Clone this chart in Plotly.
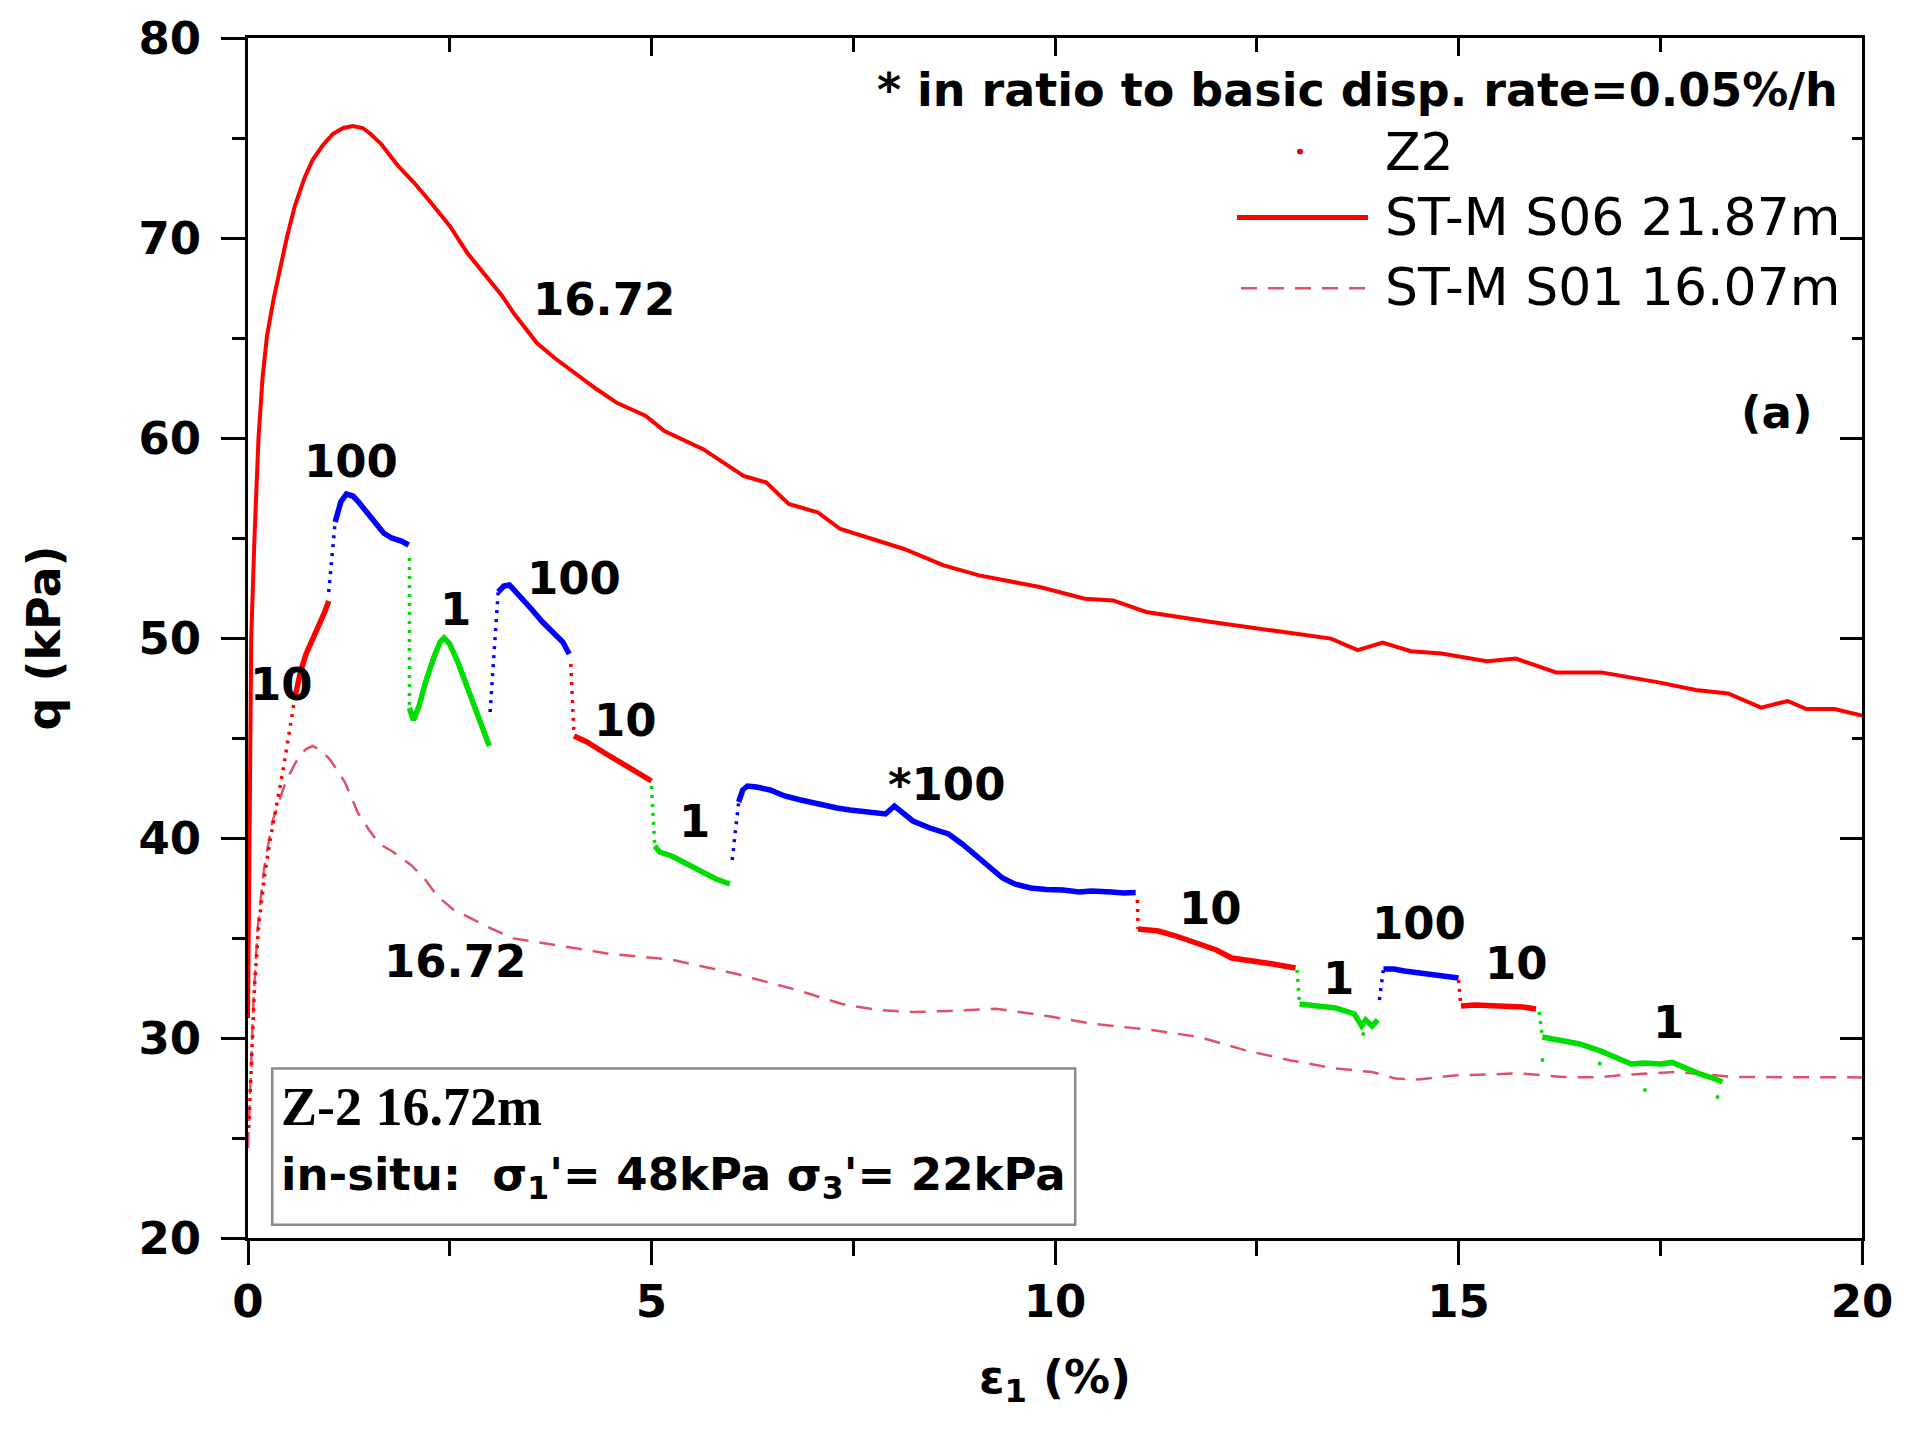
import plotly.graph_objects as go

# ---------------- data ----------------
# ST-M S06 21.87m (solid red)
s06_x = [0.0, 0.02, 0.03, 0.04, 0.08, 0.13, 0.18, 0.235, 0.32, 0.39, 0.48, 0.58, 0.70, 0.80,
         0.92, 1.05, 1.18, 1.30, 1.42, 1.52, 1.65, 1.86, 2.05, 2.24, 2.50, 2.72, 3.02, 3.15, 3.30, 3.58,
         3.80, 4.0, 4.30, 4.57, 4.93, 5.16, 5.64, 6.14, 6.42, 6.70, 7.06, 7.34, 8.13, 8.62, 9.06, 9.81,
         10.37, 10.72, 11.13, 11.94, 12.79, 13.42, 13.75, 14.06, 14.41, 14.79, 15.35, 15.71, 16.21,
         16.77, 17.48, 17.94, 18.34, 18.75, 19.08, 19.31, 19.66, 20.0]
s06_y = [31.0, 40.0, 47.0, 50.0, 55.0, 60.0, 63.0, 65.1, 67.0, 68.4, 70.0, 71.6, 73.0, 73.9,
         74.6, 75.2, 75.5, 75.6, 75.5, 75.2, 74.7, 73.6, 72.8, 71.9, 70.6, 69.24, 67.7, 67.1, 66.2, 64.75,
         64.0, 63.4, 62.5, 61.76, 61.1, 60.35, 59.44, 58.1, 57.78, 56.7, 56.28, 55.45, 54.45, 53.63, 53.13, 52.55,
         51.96, 51.88, 51.3, 50.8, 50.3, 49.97, 49.39, 49.77, 49.34, 49.22, 48.84, 48.97, 48.28,
         48.28, 47.78, 47.4, 47.23, 46.52, 46.85, 46.45, 46.45, 46.12]

# ST-M S01 16.07m (dashed)
s01_x = [0.0, 0.03, 0.07, 0.12, 0.20, 0.30, 0.47, 0.62, 0.72, 0.80, 0.90, 1.02, 1.20, 1.36, 1.50,
         1.63, 1.80, 2.02, 2.20, 2.35, 2.55, 2.74, 3.00, 3.29, 3.70, 4.12, 4.49, 5.23, 6.06, 6.80,
         7.36, 7.80, 8.23, 8.70, 9.27, 9.90, 10.49, 11.20, 11.80, 12.36, 12.92, 13.48, 13.93, 14.22,
         14.50, 14.95, 15.40, 15.74, 16.30, 16.70, 17.14, 17.70, 18.43, 19.11, 19.90, 20.0]
s01_y = [24.5, 28.0, 32.0, 35.5, 38.5, 40.8, 42.85, 44.0, 44.45, 44.6, 44.4, 43.9, 42.8, 41.27, 40.4,
         39.7, 39.3, 38.65, 37.9, 37.08, 36.4, 36.03, 35.5, 34.98, 34.7, 34.45, 34.2, 33.93, 33.2, 32.4,
         31.7, 31.4, 31.3, 31.35, 31.46, 31.1, 30.7, 30.4, 30.04, 29.38, 28.88, 28.47, 28.3, 27.97,
         27.93, 28.13, 28.18, 28.23, 28.05, 28.03, 28.18, 28.3, 28.05, 28.05, 28.03, 28.03]

# Z2 test, one array pair per displacement-rate stage (first n_dot points = sparse transition)
z2_rate = [10, 100, 1, 100, 10, 1, 100, 10, 1, 100, 10, 1]
z2_ndot = [10, 2, 2, 2, 2, 2, 2, 2, 2, 2, 2, 2]

z2_x1 = [0.01, 0.04, 0.08, 0.13, 0.20, 0.27, 0.35, 0.43, 0.50, 0.58, 0.65, 0.72, 0.80, 0.88, 0.95, 1.0]
z2_y1 = [25.5, 29.0, 32.5, 35.5, 38.0, 39.8, 41.5, 43.3, 45.0, 47.0, 48.3, 49.2, 49.9, 50.6, 51.3, 51.85]
z2_x2 = [1.0, 1.08, 1.15, 1.22, 1.30, 1.36, 1.45, 1.58, 1.68, 1.78, 1.90, 1.99]
z2_y2 = [52.3, 55.8, 56.8, 57.2, 57.1, 56.85, 56.4, 55.75, 55.25, 55.0, 54.85, 54.65]
z2_x3 = [2.0, 2.0, 2.05, 2.12, 2.20, 2.30, 2.38, 2.43, 2.50, 2.60, 2.70, 2.80, 2.90, 2.99]
z2_y3 = [54.0, 46.5, 45.9, 46.6, 47.8, 49.0, 49.8, 50.0, 49.7, 48.8, 47.7, 46.6, 45.5, 44.6]
z2_x4 = [3.0, 3.1, 3.17, 3.24, 3.35, 3.50, 3.65, 3.80, 3.90, 3.98]
z2_y4 = [46.3, 52.3, 52.6, 52.65, 52.2, 51.5, 50.8, 50.2, 49.8, 49.2]
z2_x5 = [4.0, 4.04, 4.20, 4.40, 4.60, 4.80, 5.0]
z2_y5 = [48.7, 45.1, 44.8, 44.3, 43.8, 43.3, 42.85]
z2_x6 = [5.0, 5.04, 5.10, 5.25, 5.45, 5.64, 5.80, 5.97]
z2_y6 = [42.6, 39.6, 39.3, 39.1, 38.7, 38.3, 37.95, 37.7]
z2_x7 = [6.0, 6.08, 6.13, 6.19, 6.30, 6.47, 6.65, 6.85, 7.0, 7.13, 7.30, 7.46, 7.70, 7.90, 8.01,
         8.10, 8.24, 8.45, 8.68, 8.85, 8.95, 9.10, 9.23, 9.35, 9.50, 9.70, 9.89, 10.10, 10.30, 10.45,
         10.70, 10.85, 11.0]
z2_y7 = [38.9, 41.8, 42.4, 42.6, 42.55, 42.4, 42.1, 41.9, 41.75, 41.6, 41.5, 41.4, 41.3, 41.2, 41.6,
         41.3, 40.85, 40.5, 40.2, 39.7, 39.35, 38.8, 38.35, 38.0, 37.7, 37.5, 37.43, 37.4, 37.3, 37.35,
         37.3, 37.25, 37.27]
z2_x8 = [11.02, 11.03, 11.28, 11.50, 11.80, 12.0, 12.19, 12.40, 12.70, 12.98]
z2_y8 = [36.9, 35.45, 35.35, 35.1, 34.7, 34.4, 34.0, 33.9, 33.7, 33.5]
z2_x9 = [13.0, 13.03, 13.20, 13.48, 13.60, 13.71, 13.80, 13.85, 13.93, 14.0]
z2_y9 = [33.4, 31.7, 31.6, 31.5, 31.35, 31.2, 30.6, 30.9, 30.6, 30.9]
z2_x10 = [14.02, 14.07, 14.20, 14.33, 14.50, 14.70, 14.85, 15.0]
z2_y10 = [31.9, 33.45, 33.45, 33.35, 33.25, 33.15, 33.05, 33.0]
z2_x11 = [15.0, 15.03, 15.20, 15.50, 15.80, 15.96]
z2_y11 = [32.9, 31.6, 31.65, 31.6, 31.55, 31.45]
z2_x12 = [16.0, 16.04, 16.30, 16.50, 16.75, 16.90, 17.14, 17.30, 17.50, 17.65, 17.80, 17.99, 18.15, 18.27]
z2_y12 = [31.3, 30.05, 29.88, 29.7, 29.37, 29.1, 28.7, 28.75, 28.7, 28.78, 28.5, 28.2, 28.0, 27.8]

z2_out_x = [13.82, 16.04, 16.75, 17.31, 18.21]
z2_out_y = [30.2, 28.9, 28.73, 27.4, 27.05]

rate_labels = ["10", "100", "1", "100", "10", "1", "*100", "10", "1", "100", "10", "1"]
rate_label_x = [0.415, 1.275, 2.57, 4.04, 4.675, 5.53, 8.66, 11.93, 13.51, 14.51, 15.72, 17.6]
rate_label_y = [47.7, 58.82, 51.45, 52.99, 45.9, 40.84, 42.68, 36.48, 32.99, 35.75, 33.74, 30.79]

depth_labels = ["16.72", "16.72"]
depth_label_x = [4.415, 2.56]
depth_label_y = [66.95, 33.84]

# ---------------- figure ----------------
W, H = 1912, 1429
ML, MR, MT, MB = 248, 50, 34, 191
FONT = "DejaVu Sans"
rate_color = {10: "#ff0000", 100: "#0000ff", 1: "#00dd00"}

fig = go.Figure()

fig.add_trace(go.Scatter(x=s01_x, y=s01_y, mode="lines", name="ST-M S01 16.07m",
                         line=dict(color="#e0506a", width=2.5, dash="16px,11px"), showlegend=False))
fig.add_trace(go.Scatter(x=s06_x, y=s06_y, mode="lines", name="ST-M S06 21.87m",
                         line=dict(color="#ff0000", width=4), showlegend=False))

segs_x = [z2_x1, z2_x2, z2_x3, z2_x4, z2_x5, z2_x6, z2_x7, z2_x8, z2_x9, z2_x10, z2_x11, z2_x12]
segs_y = [z2_y1, z2_y2, z2_y3, z2_y4, z2_y5, z2_y6, z2_y7, z2_y8, z2_y9, z2_y10, z2_y11, z2_y12]
for sx, sy, r, nd in zip(segs_x, segs_y, z2_rate, z2_ndot):
    c = rate_color[r]
    fig.add_trace(go.Scatter(x=sx[:nd], y=sy[:nd], mode="lines", showlegend=False,
                             line=dict(color=c, width=3.5, dash="3px,6px")))
    fig.add_trace(go.Scatter(x=sx[nd - 1:], y=sy[nd - 1:], mode="lines", showlegend=False,
                             line=dict(color=c, width=5.5)))
fig.add_trace(go.Scatter(x=z2_out_x, y=z2_out_y, mode="markers", showlegend=False,
                         marker=dict(color="#00dd00", size=4)))

# dummy trace so the mirrored (top / right) axes are drawn
fig.add_trace(go.Scatter(x=[], y=[], xaxis="x2", yaxis="y2", showlegend=False, hoverinfo="skip"))

tickfont = dict(family=FONT, size=45, color="black", weight="bold")
titlefont = dict(family=FONT, size=46, color="black", weight="bold")

fig.update_layout(
    width=W, height=H,
    margin=dict(l=ML, r=MR, t=MT, b=MB),
    paper_bgcolor="white", plot_bgcolor="white",
    showlegend=False,
    xaxis=dict(range=[0, 20], tick0=0, dtick=5, ticks="outside", ticklen=24, tickwidth=2.5,
               tickcolor="black", showline=True, linewidth=3, linecolor="black",
               showgrid=False, zeroline=False, tickfont=tickfont, ticklabelstandoff=-2,
               minor=dict(dtick=2.5, ticks="outside", ticklen=15, tickwidth=2.5,
                          tickcolor="black", showgrid=False),
               title=dict(text="ε<sub>1</sub> (%)", font=titlefont, standoff=34)),
    yaxis=dict(range=[20, 80], tick0=20, dtick=10, ticks="outside", ticklen=24, tickwidth=2.5,
               tickcolor="black", showline=True, linewidth=3, linecolor="black",
               showgrid=False, zeroline=False, tickfont=tickfont, ticklabelstandoff=11,
               minor=dict(dtick=5, ticks="outside", ticklen=13, tickwidth=2.5,
                          tickcolor="black", showgrid=False),
               title=dict(text="q (kPa)", font=titlefont, standoff=64)),
    xaxis2=dict(range=[0, 20], overlaying="x", side="top", anchor="y2", tick0=0, dtick=5,
                ticks="inside", ticklen=18, tickwidth=2.5, tickcolor="black",
                showline=True, linewidth=3, linecolor="black", showgrid=False,
                zeroline=False, showticklabels=False,
                minor=dict(dtick=2.5, ticks="inside", ticklen=14, tickwidth=2.5,
                           tickcolor="black", showgrid=False)),
    yaxis2=dict(range=[20, 80], overlaying="y", side="right", anchor="x2", tick0=20, dtick=10,
                ticks="inside", ticklen=22, tickwidth=2.5, tickcolor="black",
                showline=True, linewidth=3, linecolor="black", showgrid=False,
                zeroline=False, showticklabels=False,
                minor=dict(dtick=5, ticks="inside", ticklen=10, tickwidth=2.5,
                           tickcolor="black", showgrid=False)),
)

annfont = dict(family=FONT, size=45, color="black", weight="bold")
for t, x, y in zip(rate_labels + depth_labels, rate_label_x + depth_label_x,
                   rate_label_y + depth_label_y):
    fig.add_annotation(x=x, y=y, xref="x", yref="y", text=t, showarrow=False,
                       xanchor="center", yanchor="middle", font=annfont)


def px(X, Y):
    """pixel position -> paper coordinates"""
    return (X - ML) / (W - ML - MR), 1 - (Y - MT) / (H - MT - MB)


# note at top right
ax, ay = px(1840, 86)
fig.add_annotation(x=ax, y=ay, xref="paper", yref="paper", showarrow=False,
                   text="* in ratio to basic disp. rate=0.05%/h", xanchor="right", yanchor="middle",
                   font=dict(family=FONT, size=46, color="black", weight="bold"))

# legend (custom, to reproduce long line samples)
legfont = dict(family=FONT, size=52, color="black")
legend_names = ["Z2", "ST-M S06 21.87m", "ST-M S01 16.07m"]
legend_rows = [148, 214, 284]
for name, ry in zip(legend_names, legend_rows):
    tx, ty = px(1383, ry)
    fig.add_annotation(x=tx, y=ty, xref="paper", yref="paper", text=name, showarrow=False,
                       xanchor="left", yanchor="middle", font=legfont)
x0, y0 = px(1237, 214)
x1, _ = px(1368, 214)
fig.add_shape(type="line", xref="paper", yref="paper", x0=x0, x1=x1, y0=y0, y1=y0,
              line=dict(color="#ff0000", width=5))
x0, y0 = px(1241, 285)
x1, _ = px(1371, 285)
fig.add_shape(type="line", xref="paper", yref="paper", x0=x0, x1=x1, y0=y0, y1=y0,
              line=dict(color="#e0506a", width=2.5, dash="16px,11px"))
cx, cy = px(1300, 148)
fig.add_shape(type="circle", xref="paper", yref="paper",
              x0=cx - 3 / (W - ML - MR), x1=cx + 3 / (W - ML - MR),
              y0=cy - 3 / (H - MT - MB), y1=cy + 3 / (H - MT - MB),
              fillcolor="#e00020", line=dict(width=0))

# (a)
ax, ay = px(1777, 410)
fig.add_annotation(x=ax, y=ay, xref="paper", yref="paper", text="(a)", showarrow=False,
                   xanchor="center", yanchor="middle", font=annfont)

# info box
fig.add_shape(type="rect", xref="x", yref="y", x0=0.30, x1=10.25, y0=20.66, y1=28.48,
              line=dict(color="#8a8a8a", width=2.5), fillcolor="rgba(0,0,0,0)")
fig.add_annotation(x=0.38, y=26.55, xref="x", yref="y", text="Z-2 16.72m", showarrow=False,
                   xanchor="left", yanchor="middle",
                   font=dict(family="Liberation Serif", size=54, color="black", weight="bold"))
fig.add_annotation(x=0.38, y=23.06, xref="x", yref="y",
                   text="in-situ:  σ<sub>1</sub>'= 48kPa σ<sub>3</sub>'= 22kPa", showarrow=False,
                   xanchor="left", yanchor="middle",
                   font=dict(family=FONT, size=45, color="black", weight="bold"))

fig.write_html("out.html", config={"displayModeBar": False},
               post_script="document.body.style.margin='0';document.body.style.overflow='hidden';")
